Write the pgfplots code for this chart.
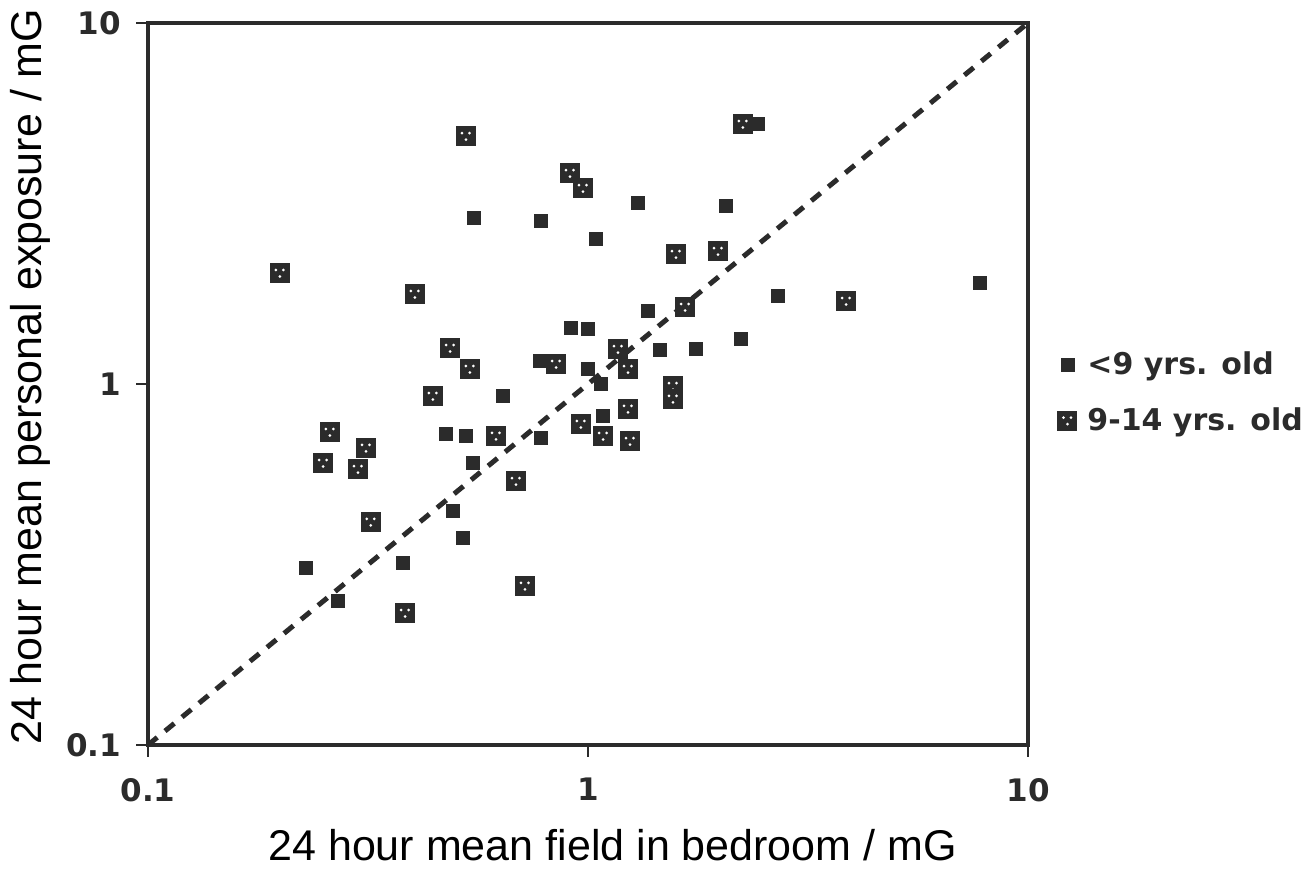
\documentclass[border=0pt]{standalone}
\usepackage{fontspec}
\setmainfont{Liberation Sans}
\newfontfamily\dvs{DejaVu Sans}
\usepackage{pgfplots}
\pgfplotsset{compat=1.18}
\definecolor{ink}{HTML}{2B2B2B}

\pgfdeclareplotmark{hsq}{%
  \pgfpathrectangle{\pgfpoint{-\pgfplotmarksize}{-\pgfplotmarksize}}{\pgfpoint{2\pgfplotmarksize}{2\pgfplotmarksize}}%
  \pgfusepathqfill
  \begin{pgfscope}%
  \pgfsetfillcolor{white}%
  \pgfpathcircle{\pgfpoint{-0.4\pgfplotmarksize}{0.3\pgfplotmarksize}}{0.15\pgfplotmarksize}%
  \pgfpathcircle{\pgfpoint{0.35\pgfplotmarksize}{0.3\pgfplotmarksize}}{0.15\pgfplotmarksize}%
  \pgfpathcircle{\pgfpoint{0pt}{-0.35\pgfplotmarksize}}{0.15\pgfplotmarksize}%
  \pgfusepathqfill
  \end{pgfscope}%
}

\begin{document}
\begin{tikzpicture}
\path[use as bounding box] (0,0) rectangle (656bp,438.5bp);
\begin{axis}[
  at={(74bp,66bp)}, anchor=south west,
  scale only axis, width=440bp, height=361bp,
  xmode=log, ymode=log, xmin=0.1, xmax=10, ymin=0.1, ymax=10,
  xtick={0.1,1,10}, xticklabels={0.1,1,10},
  ytick={0.1,1,10}, yticklabels={0.1,1,10},
  xminorticks=false, yminorticks=false,
  tick align=outside, xtick pos=bottom, ytick pos=left, major tick length=6bp,
  axis line style={ink, line width=1.6bp},
  tick style={ink, line width=1.4bp},
  ticklabel style={font=\dvs\bfseries\fontsize{15.5bp}{18bp}\selectfont, text=ink},
  xticklabel style={yshift=-7bp},
  yticklabel style={xshift=-4bp},
  xlabel={24 hour mean field in bedroom / mG},
  ylabel={24 hour mean personal exposure / mG},
  label style={font=\fontsize{21.5bp}{25bp}\selectfont, text=black},
  xlabel style={at={([yshift=-50bp]axis description cs:0.528,0)}, anchor=center},
  ylabel style={at={([xshift=-59bp]axis description cs:0,0.51)}, anchor=center},
  legend style={at={(axis description cs:1.033,0.545)}, anchor=north west, draw=none, fill=none,
    font=\dvs\bfseries\fontsize{15bp}{18bp}\selectfont, text=ink, row sep=15bp, inner sep=0pt,
    nodes={inner xsep=5bp, inner ysep=0pt}},
  legend cell align=left,
]
\addplot[ink, line width=2.5bp, dash pattern=on 6bp off 5bp, forget plot] coordinates {(0.1,0.1) (10,10)};

\addplot[only marks, mark=square*, mark size=3.25bp, color=ink] coordinates {
(0.551,2.884) (0.782,2.83) (1.043,2.52) (1.299,3.17) (2.06,3.11) (7.78,1.905)
(2.70,1.753) (1.369,1.593) (2.227,1.332) (1.458,1.242) (1.760,1.250) (0.915,1.429)
(1.0,1.420) (0.778,1.158) (1.0,1.100) (1.070,1.0) (0.641,0.926) (1.082,0.815)
(0.782,0.709) (0.476,0.727) (0.528,0.718) (0.548,0.604) (0.493,0.445) (0.520,0.3745)
(0.2286,0.309) (0.380,0.319) (0.270,0.2505) (2.434,5.25)
};
\addlegendentry{<9 yrs. old}

\addplot[only marks, mark=hsq, mark size=5bp, color=ink, fill=ink] coordinates {
(0.528,4.86) (0.1995,2.03) (0.910,3.84) (0.974,3.49) (1.585,2.29) (1.975,2.335)
(2.25,5.25) (0.404,1.776) (3.86,1.698) (1.662,1.634) (0.486,1.258) (0.539,1.100)
(0.846,1.136) (1.170,1.250) (1.233,1.100) (0.444,0.926) (1.56,0.987) (1.56,0.909)
(1.233,0.853) (0.964,0.775) (1.082,0.718) (1.246,0.695) (0.618,0.718) (0.686,0.538)
(0.259,0.736) (0.250,0.604) (0.313,0.665) (0.300,0.581) (0.321,0.415) (0.719,0.276)
(0.384,0.232)
};
\addlegendentry{9-14 yrs. old}
\end{axis}
\end{tikzpicture}
\end{document}
